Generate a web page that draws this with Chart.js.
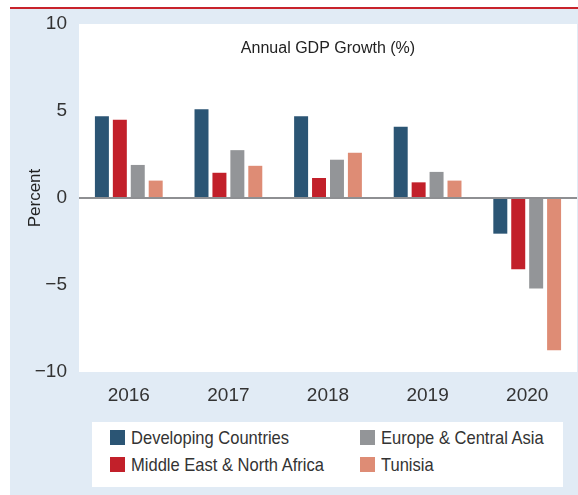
<!DOCTYPE html>
<html>
<head>
<meta charset="utf-8">
<script src="https://cdn.jsdelivr.net/npm/chart.js@4"></script>
<style>
  body { margin: 0; background: #fff; font-family: "Liberation Sans", Arial, sans-serif; }
  #redline { position: absolute; left: 10px; top: 7px; width: 568px; height: 2px; background: #c8232b; }
  #panel { position: absolute; left: 10px; top: 9px; width: 568px; height: 486px; background: #e1ebf5; }
  #box { position: absolute; left: 0; top: 0; width: 568px; height: 401px; }
  #legend { position: absolute; left: 82px; top: 413px; width: 471px; height: 65px; background: #fff;
            display: grid; grid-template-columns: 250px 221px; grid-template-rows: 27px 27px;
            grid-auto-flow: column; padding-top: 2px; box-sizing: border-box; }
  .item { display: flex; align-items: center; font-size: 19px; color: #333; padding-left: 18px; white-space: nowrap; }
  .sw { width: 15px; height: 15px; margin-right: 6px; flex: none; }
  .txt { display: inline-block; transform: scaleX(0.87); transform-origin: left center; }
</style>
</head>
<body>
<div id="redline"></div>
<div id="panel">
  <div id="box"><canvas id="myChart"></canvas></div>
  <div id="legend"></div>
</div>
<script>
// data
var years = ["2016", "2017", "2018", "2019", "2020"];
var developing = [4.7, 5.1, 4.7, 4.1, -2.05];
var mena = [4.5, 1.45, 1.15, 0.9, -4.1];
var eca = [1.9, 2.75, 2.2, 1.5, -5.2];
var tunisia = [1.0, 1.85, 2.6, 1.0, -8.75];
var names = ["Developing Countries", "Middle East & North Africa", "Europe & Central Asia", "Tunisia"];
var colors = ["#2b5574", "#c2202a", "#939598", "#de8c75"];
var chartTitle = "Annual GDP Growth (%)";

var font = "'Liberation Sans', Arial, sans-serif";

// white plot area + title inside it
var plotBg = {
  id: "plotBg",
  beforeDraw: function(chart) {
    var a = chart.chartArea, c = chart.ctx;
    c.save();
    c.fillStyle = "#fff";
    c.fillRect(a.left, a.top, a.right - a.left, a.bottom - a.top);
    c.restore();
  },
  afterDraw: function(chart) {
    var a = chart.chartArea, c = chart.ctx;
    c.save();
    c.fillStyle = "#222";
    c.font = "16px " + font;
    c.textAlign = "center";
    c.textBaseline = "middle";
    c.fillText(chartTitle, (a.left + a.right) / 2, a.top + 25);
    c.restore();
  }
};

var series = [developing, mena, eca, tunisia];
var ctx = document.getElementById("myChart");
var myChart = new Chart(ctx, {
  type: "bar",
  data: {
    labels: years,
    datasets: series.map(function(s, i) {
      return {
        label: names[i],
        data: s,
        backgroundColor: colors[i],
        borderWidth: 0,
        categoryPercentage: 0.72,
        barPercentage: 0.78
      };
    })
  },
  options: {
    responsive: true,
    maintainAspectRatio: false,
    animation: false,
    layout: { padding: { top: 15, right: 1, left: 0, bottom: 0 } },
    plugins: {
      legend: { display: false },
      tooltip: { enabled: false }
    },
    scales: {
      x: {
        grid: { display: false, drawTicks: false },
        border: { display: false },
        ticks: { color: "#333", font: { family: font, size: 19 }, padding: 12 },
        afterFit: function(s) { s.height = 38; s.paddingLeft = 0; s.paddingRight = 0; }
      },
      y: {
        min: -10,
        max: 10,
        border: { display: false },
        grid: {
          drawTicks: false,
          lineWidth: 2,
          color: function(c) { return c.tick && c.tick.value === 0 ? "#8e8f92" : "rgba(0,0,0,0)"; }
        },
        ticks: {
          stepSize: 5,
          padding: 12,
          color: "#333",
          font: { family: font, size: 19 },
          callback: function(v) { return String(v).replace("-", "\u2212"); }
        },
        title: {
          display: true,
          text: "Percent",
          color: "#222",
          font: { family: font, size: 17 },
          padding: { top: 15, bottom: 0 }
        },
        afterFit: function(s) { s.width = 69; s.paddingTop = 0; s.paddingBottom = 0; }
      }
    }
  },
  plugins: [plotBg]
});

// legend, two columns filled top to bottom
var leg = document.getElementById("legend");
myChart.data.datasets.forEach(function(ds) {
  var it = document.createElement("div");
  it.className = "item";
  it.innerHTML = '<span class="sw" style="background:' + ds.backgroundColor + '"></span><span class="txt">' + ds.label + '</span>';
  leg.appendChild(it);
});
</script>
</body>
</html>
